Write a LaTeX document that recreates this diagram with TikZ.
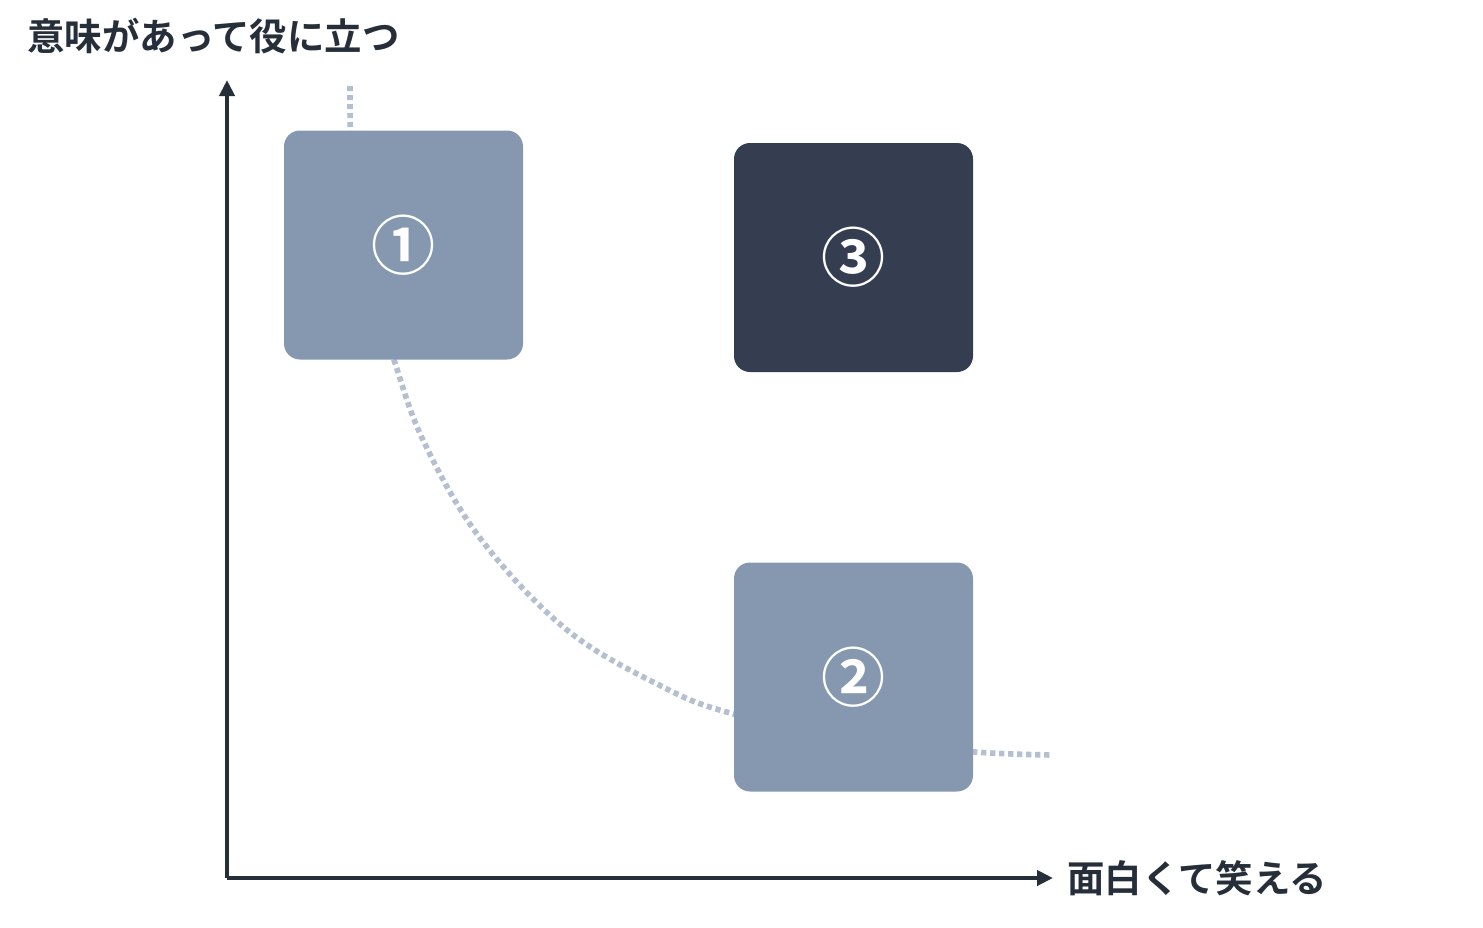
\documentclass[tikz,border=0pt]{standalone}
\usepackage{fontspec}
\setmainfont{Noto Sans CJK JP}[BoldFont={Noto Sans CJK JP Bold}]
\usetikzlibrary{positioning, arrows.meta}
\definecolor{axisink}{HTML}{262E3A}
\definecolor{boxlight}{HTML}{8598B0}
\definecolor{boxdark}{HTML}{343E50}
\definecolor{dotink}{HTML}{B4BFD0}

\begin{document}
\begin{tikzpicture} [
        x=0.5pt, y=-0.5pt,
        quad/.style={rectangle, rounded corners=8pt, minimum width=119.5pt, minimum height=114.5pt, inner sep=0pt, text=white, font=\bfseries\fontsize{32}{32}\selectfont},
        lightquad/.style={quad, fill=boxlight},
        darkquad/.style={quad, fill=boxdark},
        axislabel/.style={anchor=west, inner sep=0pt, text=axisink, font=\bfseries\fontsize{18.7}{18.7}\selectfont},
        axis/.style={draw=axisink, line width=2.2pt, -{Triangle[length=8pt, width=7.5pt]}},
        tradeoff/.style={draw=dotink, line width=2.8pt, dash pattern=on 2.6pt off 1.9pt}
    ]
        \useasboundingbox (0,0) rectangle (1483,927);

        % Axes
        \coordinate (origin) at (227,878);
        \coordinate (yend) at (227,80);
        \coordinate (xend) at (1053,878);
        \node[axislabel] (ylab) at (27,36) {意味があって役に立つ};
        \node[axislabel, right=7pt of xend] (xlab) {面白くて笑える};
        \path [axis] (origin) -- (yend);
        \path [axis] (origin) -- (xend);

        % Curve (behind the boxes)
        \coordinate (cstart) at (350,86);
        \coordinate (cend) at (1052,755);
        \path [tradeoff] plot[smooth, tension=0.6] coordinates {(350,86) (352,170) (365,270) (393,357) (423,440) (480,538) (567,630) (663,687) (730,713) (850,740) (975,752) (1052,755)};

        % Boxes
        \node[lightquad] (useful) at (403.5,245) {①};
        \node[darkquad] (both) at (853.5,257.5) {③};
        \node[lightquad] (funny) at (853.5,677) {②};
    \end{tikzpicture}
\end{document}
